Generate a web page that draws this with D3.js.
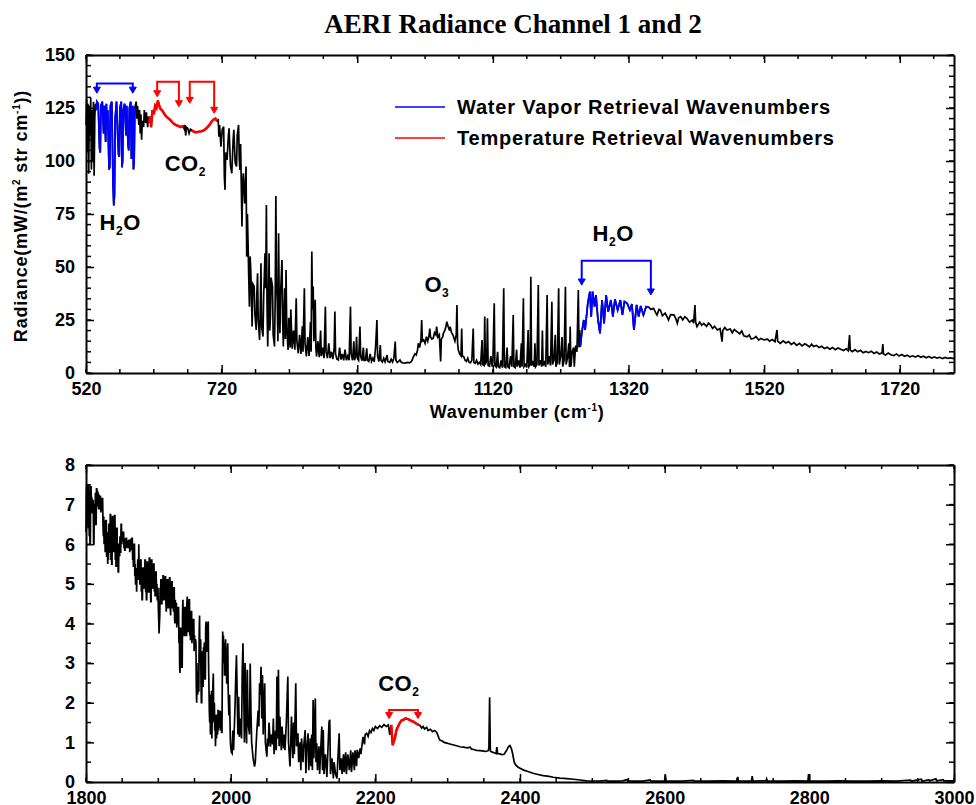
<!DOCTYPE html>
<html lang="en">
<head>
<meta charset="UTF-8">
<title>AERI Radiance Channel 1 and 2</title>
<script src="https://cdn.jsdelivr.net/npm/d3@7"></script>
<style>
  body { margin: 0; background: #fff; }
  svg text { font-family: "Liberation Sans", Arial, sans-serif; font-weight: bold; fill: #000; }
  .title { font-family: "Liberation Serif", "Times New Roman", serif; }
</style>
</head>
<body>
<svg id="chart" width="976" height="805"></svg>
<script>
// channel 1 spectrum, [wavenumber cm-1, radiance mW/(m2 sr cm-1)]
const ch1Spectrum = [
  [520,117],[521,129],[522,104],[523,127],[524,94],[525,126],[526,112],[527,130],[528,96],[529,124],[530,100],[531,128],[532,93],[533,121],[534,127],
  [535,124],[536,128],[538,127],[540,106],[541,104],[542,126],[544,128],[546,113],[547,126],[549,109],[550,127],[551,117],[552,124],[554,96],[555,97],[556,126],[558,128],[560,88],[561,79],[562,84],[563,120],[565,128],[567,110],[568,103],[569,102],[570,125],[572,128],[573,97],[574,100],[575,124],[577,127],[579,112],[580,126],[582,108],[583,105],[584,125],[586,128],[587,101],[588,104],[589,126],[590,96],[591,100],[592,125],
  [594,128],[595,120],[596,126],[598,117],[599,124],[600,113],[601,122],[602,110],[603,119],[605,116],[606,124],[608,118],[609,123],[611,116],[612,121],
  [613,118],[615,121],[616,116],[618,124],[620,122],[622,126],[624,125],[626,128.5],[628,126],[630,124.5],[632,124],[634,123],[637,121.5],[640,120.5],[644,119.5],[648,118],[652,117],[656,116.5],[660,116],[663,116.5],
  [665,115],[666,117],[667,112],[668,116],[670,115.5],[672,113],[674,115],[676,114.5],
  [678,114],[682,113.5],[686,113.8],[690,114],[694,114.5],[698,115.5],[702,117],[705,118.5],[708,119.5],[711,120],[713,119],
  [715,119.4],[716,111.5],[717,117],[719,106.8],[721,115],[723,116.2],[724,92.6],[725,86.4],[726,104],[728,100.5],[730,112],[731,115.4],[733,98],[735,94.2],[737,110],[738,114.7],[740,99],[742,97.4],[743,112],[745,117],[746,101],[747,95.8],[748,108],[750,69.1],[751,90],[752,94.2],[754,80],[756,97.4],[757,54.9],[758,75],[759,61.2],[760,45],[761,31.3],[762,55],[763,48.6],[764,35],[765,21.9],[766,42],[768,40.8],[769,28],[771,20.3],[772,38],[773,47],[774,25],[776,15.6],[777,30],[778,51.8],[779,22],[781,17.2],[782,36],[784,56.5],[785,40],[786,79.3],[787,30],[788,12.5],[789,33],[790,56.5],[791,20],[792,26.6],[793,45],[795,40.8],[796,18],[798,12.5],[799,35],[800,83.5],[801,42],[802,34.5],[803,15],[804,65.9],[805,30],[806,18.8],[807,38],[809,53.3],[810,25],[811,12.5],[812,28],[813,40],[814,16],[815,48.6],[816,22],[818,10.9],[819,26],[821,12],[822,30],[824,11.5],[826,20],[828,11],[830,35.3],[831,15],[833,9.3],[835,18],[837,9],[839,22],[840,10],[842,40],[843,14],[845,7.8],[847,17],[849,8],[851,24],[852,10],[853,57.3],[854,30],[855,40.8],[856,15],[858,34.5],[859,12],[860,7.8],[862,15],[864,7.5],[866,20],[867,8],[869,12],[871,7],[873,31.3],[874,10],[876,7],[878,14],[880,7],[882,10],[884,6.5],[886,12],[887,29],[888,9],[890,6.5],[892,6.2],[894,12],[896,6.3],[898,9],[900,6],[902,11],[904,6],[906,8],[908,6],[910,31.3],[911,9],[913,6],[915,15],[916,6],[918,9],[919,17.1],[920,7],[922,6],[924,21.9],[925,8],[927,5.8],[929,12],[930,6],[932,6],[934,11.6],[935,6],[937,5.5],[939,9],[941,5.5],[943,7],[945,5.3],[947,12],[949,25],[950,8],[952,5.4],[954,13.2],[955,6],[957,5.2],[959,7],[961,5.3],[964,8.5],[965,5.5],[968,5],[970,6.5],[972,5.2],[974,7],[976,14.8],[977,6],[979,5],[981,5.5],[983,6.2],[985,5],[988,4.8],[991,4.7],[994,5],[997,4.8],[1000,5.5],
  [1003,7.7],[1005,9],[1007,8.5],[1009,11],[1010,14],[1012,12],[1014,16],[1015,25],[1016,15],[1018,15.6],[1020,14],[1022,17.1],[1024,15],[1026,18],[1027,21],[1028,17],[1030,16],[1032,16.4],[1034,19],[1036,18],[1037,21.9],[1039,17],[1041,18],[1043,5.4],[1044,16],[1046,17],[1047,18.7],[1049,20],[1051,22],[1052,24.2],[1054,22],[1056,20],[1057,21.9],[1059,19],[1061,18],[1062,17.1],[1064,15],[1066,18],[1067,32.1],[1068,14],[1069,10.9],[1071,9],[1073,8],[1074,21],[1075,8],[1077,7.7],[1079,6],[1081,5.5],[1083,7],[1085,5],[1087,4.8],[1089,6],[1091,21],[1092,5],[1094,4.6],[1096,6],[1098,4.2],[1100,5],[1102,4],[1104,15.6],[1105,4],[1107,3.5],[1108,26.6],[1109,4],[1111,6],[1112,25.8],[1113,3.5],[1115,3.2],[1117,8],[1119,3],[1120,5],[1122,32.9],[1123,3.5],[1125,2.8],[1127,10],[1128,3],[1130,2.5],[1132,6],[1134,2.5],[1136,40],[1137,3],[1139,2.5],[1141,12],[1142,3],[1144,2.4],[1146,8],[1148,3],[1150,27.4],[1151,3],[1153,2.5],[1155,11],[1156,3],[1158,6],[1160,2.5],[1162,14],[1163,3],[1165,35.2],[1166,3],[1168,4],[1170,2.6],[1172,20.3],[1173,3],[1175,4],[1176,45.4],[1177,3.5],[1179,5],[1181,3],[1182,14],[1183,3],[1185,4],[1187,41.5],[1188,3.5],[1190,6],[1192,3],[1193,20],[1194,3.5],[1196,5],[1198,3],[1200,36.8],[1201,4],[1203,8],[1205,3.5],[1207,33.6],[1208,4],[1210,6],[1212,18],[1213,3],[1215,5],[1217,40],[1218,4],[1220,8],[1222,17],[1223,3],[1225,6],[1227,40.7],[1228,4],[1230,7],[1232,14],[1233,2.8],[1234,21.9],[1235,3],[1237,10],[1239,12],[1240,3],[1242,13],[1244,10],[1246,39.1],[1247,12],[1248,20.3],
  [1249,12.4],[1251,18.7],[1254,25],[1256,20.3],[1260,32.9],[1263,38.4],[1265,26.6],[1267,38.4],[1270,31.3],[1272,36.8],[1275,25],[1278,18.7],[1281,34.4],[1284,23.4],[1287,36.8],[1290,28.9],[1294,34.4],[1297,26.6],[1300,34.8],[1304,29.7],[1308,34.4],[1311,27.4],[1314,33.7],[1318,32.9],[1322,29.7],[1325,32.5],[1328,20.3],[1332,32.1],[1335,26.6],[1338,31.6],[1342,27.4],[1346,31.3],[1350,31],
  [1353,30],[1357,30.5],[1360,28.5],[1362,27.4],[1365,30],[1367,29.7],[1370,27],[1374,28.2],[1377,26.5],[1379,25],[1382,27.5],[1387,27.4],[1390,25.5],[1392,23.4],[1394,26],[1397,26.6],[1400,25],[1403,26.5],[1406,25.8],[1410,24],[1414,25],[1416,23.5],[1418,32.1],[1419,24],[1421,21.9],[1425,24],[1428,22.5],[1431,23.4],[1435,22],[1438,23.5],[1441,22.6],[1444,21],[1447,22],[1451,20.3],[1455,21],[1458,14.8],[1459,20],[1462,21.5],[1465,20.3],[1470,20.8],[1473,19],[1476,20.5],[1480,19.5],[1484,18.5],[1487,19.8],[1490,17.5],[1495,17.1],[1498,18],[1501,16],[1505,16.4],[1508,17.2],[1512,15.5],[1515,16.3],[1520,15.6],[1525,16],[1528,15],[1532,15.8],[1536,14.8],[1539,20.3],[1540,15],[1544,14],[1548,15.2],[1552,14.2],[1556,14.8],[1560,13.5],[1564,14.3],[1568,13],[1572,14],[1576,12.8],[1580,13.8],[1583,13.2],[1587,12.3],[1590,13.6],[1593,12.5],[1597,13],[1601,12],[1605,12.6],[1609,11.5],[1613,12.1],[1617,11.2],[1621,12],[1625,11],[1629,11.8],[1633,11.2],[1637,10.6],[1641,11.4],[1644,10.5],[1646,17.9],[1647,10.8],[1650,10.1],[1654,11],[1658,10],[1662,10.7],[1666,9.6],[1670,10.2],[1674,9.6],[1678,10.3],[1682,9.2],[1686,9.9],[1690,9],[1694,9.5],[1695,13.7],[1696,9],[1699,8.5],[1703,9.4],[1707,8.6],[1711,8.2],[1715,9],[1719,8],[1723,8.7],[1727,7.9],[1731,8.4],[1735,7.6],[1739,8.1],[1743,7.5],[1747,8.2],[1751,7.4],[1755,7.9],[1759,7.2],[1763,7.8],[1767,7.1],[1771,7.6],[1775,7],[1779,7.4],[1783,6.8],[1787,7.3],[1791,6.9],[1795,7.1],[1800,6.8]
];

// channel 2 spectrum
const ch2Spectrum = [
  [1800,6.3],[1800.5,7.3],[1801,7.5],[1801.5,6.6],[1802,7.4],[1802.5,6.5],[1803,6.4],[1803.5,7.5],[1804,7.5],[1804.5,6.2],[1805,7.3],[1805.5,6.0],[1806,6.0],[1806.5,7.45],[1807,7.45],[1807.5,6.9],[1808,7.2],[1808.5,6.8],[1809,6.8],[1809.5,7.1],[1810,7.1],[1810.5,6.0],[1811,6.0],[1811.5,7.0],[1812,7.0],[1812.5,6.6],[1813,7.3],[1813.5,6.5],[1814,6.5],[1814.5,7.4],[1815,7.4],[1815.5,7.0],[1816,7.35],[1816.5,6.95],[1817,7.3],[1817.5,6.9],[1818,6.9],[1818.5,7.25],[1819,6.9],[1819.5,7.2],[1820,7.2],[1820.5,6.8],[1821,7.1],[1821.5,6.85],[1822,6.9],[1822.5,7.15],[1823,7.15],[1823.5,6.5],[1824,6.2],[1824.5,6.7],[1825,6.0],[1825.5,6.6],[1826,6.5],[1826.5,5.8],[1827,5.9],[1827.5,6.6],[1828,6.6],[1828.5,5.7],[1829,5.7],[1829.5,6.3],[1830,5.5],[1830.5,6.0],[1831,5.6],[1831.5,6.5],[1832,6.5],[1832.5,5.8],[1833,5.8],[1833.5,6.75],[1834,6.75],[1834.5,5.6],[1835,6.5],[1835.5,5.5],[1836,5.5],[1836.5,6.7],[1837,6.7],[1837.5,5.9],[1838,6.6],[1838.5,5.8],[1839,5.9],[1839.5,6.72],[1840,6.72],[1840.5,5.6],[1841,6.3],[1841.5,5.45],[1842,5.45],[1842.5,6.4],[1843,6.4],[1843.5,5.5],[1844,6.0],[1844.5,5.3],[1845,5.3],[1845.5,6.0],[1846,6.0],[1846.5,5.7],[1847,6.2],[1847.5,5.8],[1848,5.8],[1848.5,6.5],[1849,6.5],[1849.5,6.0],[1850,6.3],[1850.5,6.1],[1851,6.1],[1851.5,6.3],[1852,6.3],[1852.5,5.9],[1853,6.1],[1853.5,5.85],[1854,5.85],[1854.5,6.15],[1855,5.9],[1855.5,6.15],[1856,6.15],[1856.5,5.95],[1857,6.1],[1857.5,5.9],[1858,5.95],[1858.5,6.1],[1859,5.9],[1859.5,6.1],[1860,6.1],[1860.5,5.8],[1861,6.0],[1861.5,5.9],[1862,5.9],[1862.5,6.15],[1863,5.85],[1863.5,6.15],[1864,6.15],[1864.5,5.6],[1865,5.9],[1865.5,5.45],[1866,5.45],[1866.5,6.0],[1867,6.0],[1867.5,5.2],[1868,5.5],[1868.5,5.0],[1869,5.0],[1869.5,5.4],[1870,4.8],[1870.5,5.3],[1871,5.1],[1871.5,5.6],[1872,5.6],[1872.5,5.1],[1873,6.0],[1873.5,5.3],[1874,5.5],[1874.5,5.0],[1875,5.0],[1875.5,5.6],[1876,5.6],[1876.5,4.8],[1877,5.2],[1877.5,4.6],[1878,4.6],[1878.5,5.4],[1879,5.4],[1879.5,4.9],[1880,5.3],[1880.5,4.9],[1881,4.9],[1881.5,5.6],[1882,5.6],[1882.5,4.8],[1883,5.3],[1883.5,4.6],[1884,4.6],[1884.5,5.55],[1885,5.55],[1885.5,4.9],[1886,5.4],[1886.5,4.8],[1887,4.8],[1887.5,5.65],[1888,5.65],[1888.5,4.8],[1889,5.3],[1889.5,4.55],[1890,4.55],[1890.5,5.6],[1891,5.6],[1891.5,5.0],[1892,5.4],[1892.5,4.9],[1893,4.9],[1893.5,5.5],[1894,5.5],[1894.5,4.8],[1895,5.2],[1895.5,4.7],[1896,4.7],[1896.5,5.3],[1897,5.3],[1897.5,4.7],[1898,5.0],[1898.5,4.6],[1899,4.6],[1899.5,4.9],
  [1900,4.4],[1900.5,4.1],[1901,3.75],[1901.5,4.0],[1902,4.2],[1902.5,4.9],[1903,4.6],[1903.5,5.1],[1904,5.1],[1904.5,4.5],[1905,4.5],[1905.5,5.0],[1906,4.7],[1906.5,5.2],[1907,5.2],[1907.5,4.6],[1908,4.6],[1908.5,5.1],[1909,4.7],[1909.5,5.18],[1910,5.18],[1910.5,4.5],[1911,4.3],[1911.5,4.9],[1912,4.5],[1912.5,5.1],[1913,5.1],[1913.5,4.4],[1914,4.4],[1914.5,5.0],[1915,4.6],[1915.5,5.15],[1916,5.15],[1916.5,4.4],[1917,4.2],[1917.5,4.8],[1918,4.5],[1918.5,5.05],[1919,5.05],[1919.5,4.4],[1920,4.4],[1920.5,4.9],[1921,4.3],[1921.5,4.9],[1922,4.9],[1922.5,4.1],[1923,4.0],[1923.5,4.6],[1924,4.2],[1924.5,4.5],[1925,4.5],[1925.5,3.9],[1926,4.3],[1926.5,4.0],[1927,4.0],[1927.5,4.4],[1928,4.4],[1928.5,3.5],[1929,3.9],[1929.5,2.9],[1930,2.75],[1930.5,3.6],[1931,3.9],[1931.5,3.2],[1932,3.8],[1932.5,2.9],[1933,2.9],[1933.5,4.3],[1934,4.6],[1934.5,3.8],[1935,4.2],[1935.5,3.7],[1936,3.7],[1936.5,4.4],[1937,4.4],[1937.5,3.8],[1938,4.2],[1938.5,3.7],[1939,3.7],[1939.5,4.5],[1940,4.68],[1940.5,3.9],[1941,4.4],[1941.5,3.8],[1942,3.8],[1942.5,4.6],[1943,4.6],[1943.5,3.7],[1944,4.1],[1944.5,3.6],[1945,3.6],[1945.5,4.3],[1946,4.3],[1946.5,3.5],[1947,4.0],[1947.5,3.6],[1948,3.6],[1948.5,4.1],[1949,4.1],[1949.5,3.3],[1950,3.7],[1950.5,3.4],[1951,3.4],[1951.5,3.6],[1952,3.5],[1952.5,2.4],[1953,2.0],[1953.5,2.6],[1954,2.8],[1954.5,2.2],[1955,3.0],[1955.5,2.3],[1956,2.3],[1956.5,3.8],[1957,4.2],[1957.5,3.1],[1958,3.0],[1958.5,3.6],[1959,2.5],[1959.5,2.0],[1960,2.0],[1960.5,3.0],[1961,3.3],[1961.5,2.6],[1962,2.4],[1962.5,3.4],[1963,2.8],[1963.5,3.5],[1964,3.5],[1964.5,2.6],[1965,2.6],[1965.5,3.9],[1966,4.05],[1966.5,3.3],[1967,3.3],[1967.5,3.9],[1968,3.4],[1968.5,4.0],[1969,4.05],[1969.5,2.9],[1970,2.4],[1970.5,1.8],[1971,1.5],[1971.5,2.2],[1972,1.2],[1972.5,1.9],[1973,1.3],[1973.5,2.3],[1974,1.1],[1974.5,1.6],[1975,2.0],[1975.5,2.5],[1976,2.74],[1976.5,1.8],[1977,1.5],[1977.5,2.0],[1978,1.3],[1978.5,1.7],[1979,0.9],[1979.5,1.3],[1980,1.6],[1980.5,1.1],[1981,1.7],[1981.5,1.3],[1982,1.2],[1982.5,1.8],[1983,1.8],[1983.5,1.3],[1984,1.7],[1984.5,1.4],[1985,1.4],[1985.5,1.8],[1986,1.7],[1986.5,1.3],[1987,1.6],[1987.5,1.25],[1988,1.25],[1988.5,2.8],[1989,3.8],[1989.5,3.5],[1990,3.7],[1990.5,3.0],[1991,3.5],[1991.5,2.7],[1992,2.7],[1992.5,3.4],[1993,3.6],[1993.5,2.8],[1994,3.3],[1994.5,2.5],[1995,2.5],[1995.5,3.3],[1996,3.5],[1996.5,2.4],[1997,2.0],[1997.5,1.7],[1998,1.7],[1998.5,2.2],[1999,1.6],[1999.5,1.1],
  [2000,0.9],[2001,0.75],[2002,0.72],[2003,1.3],[2004,0.8],[2006,1.9],[2007,2.6],[2008,3.2],[2009,2.2],[2010,1.2],[2011,2.15],[2012,1.14],[2014,1.6],[2015,1.1],[2016,2.8],[2017,3.5],[2018,2.4],[2019,1.0],[2020,3.0],[2021,1.6],[2022,0.97],[2023,2.83],[2024,1.5],[2026,1.2],[2027,2.99],[2028,1.8],[2029,1.0],[2031,0.6],[2033,0.39],[2034,0.5],[2036,1.23],[2038,1.8],[2039,1.4],[2040,2.49],[2041,2.2],[2042,2.91],[2043,1.6],[2044,2.7],[2045,1.2],[2047,2.49],[2048,1.0],[2050,0.64],[2051,1.1],[2052,0.9],[2053,1.5],[2055,0.89],[2056,1.2],[2058,0.95],[2059,1.6],[2060,0.7],[2062,1.3],[2063,0.8],[2064,2.66],[2065,1.1],[2066,2.83],[2067,0.9],[2068,1.65],[2070,0.8],[2071,1.4],[2073,0.85],[2074,1.2],[2075,0.8],[2077,1.5],[2079,2.66],[2080,1.0],[2082,0.39],[2083,0.9],[2084,1.65],[2086,0.6],[2087,1.5],[2088,0.7],[2090,2.49],[2091,0.9],[2093,1.23],[2094,0.5],[2096,1.0],[2097,0.3],[2098,1.1],[2100,0.5],[2101,0.9],[2103,1.31],[2104,0.22],[2105,0.8],[2107,1.23],[2108,0.3],[2110,1.1],[2111,0.4],[2112,1.2],[2113,0.3],[2114,2.07],[2115,0.6],[2117,2.11],[2118,0.5],[2119,0.98],[2120,0.3],[2122,0.9],[2123,0.2],[2125,1.0],[2126,1.4],[2127,0.3],[2128,1.31],[2129,0.2],[2131,0.7],[2133,0.13],[2134,0.6],[2136,1.52],[2137,1.57],[2138,0.2],[2140,0.6],[2142,0.09],[2143,0.5],[2145,0.2],[2147,0.09],[2148,0.5],[2150,1.23],[2151,0.3],[2153,0.6],[2154,0.2],[2156,0.7],[2157,0.25],[2159,0.75],[2160,0.2],[2162,0.7],[2164,0.3],[2166,0.8],[2167,0.25],[2169,0.75],[2171,0.3],[2172,0.8],[2174,0.4],[2175,0.81],[2177,0.6],[2179,0.85],[2180,0.7],[2182,1.0],[2183,1.14],[2185,0.95],[2186,1.2],[2188,1.23],[2190,1.15],[2192,1.3],[2194,1.25],[2196,1.35],[2198,1.3],[2200,1.4],[2203,1.35],[2206,1.42],[2209,1.38],[2212,1.45],[2215,1.4],[2218,1.44],[2220,1.19],[2221,1.35],
  [2222,1.44],[2224,0.93],[2226,1.05],[2227,1.1],[2229,1.3],[2231,1.38],[2234,1.5],[2236,1.55],[2239,1.57],[2241,1.6],[2243,1.6],[2246,1.58],[2248,1.56],[2250,1.54],[2253,1.52],[2256,1.48],[2260,1.44],
  [2262,1.42],[2264,1.36],[2266,1.4],[2268,1.34],[2271,1.38],[2273,1.3],[2276,1.33],[2279,1.27],[2282,1.3],[2285,1.25],[2287,1.15],[2289,1.06],[2292,1.04],[2295,1.0],[2299,0.98],[2303,0.96],[2307,0.94],[2311,0.92],[2317,0.89],[2322,0.88],[2327,0.86],[2331,0.88],[2333,0.83],[2336,0.82],[2340,0.8],[2345,0.79],[2350,0.78],[2353,0.77],[2356,0.79],[2357,0.86],[2358,2.14],[2359,0.78],[2361,0.76],[2364,0.74],[2367,0.72],[2368,0.88],[2369,0.72],[2372,0.71],[2375,0.69],[2378,0.7],[2381,0.78],[2384,0.89],[2386,0.92],[2388,0.85],[2390,0.7],[2392,0.5],[2394,0.43],[2397,0.38],[2400,0.35],[2405,0.3],[2410,0.27],[2418,0.22],[2425,0.19],[2432,0.16],[2440,0.14],[2446,0.12],[2455,0.1],[2465,0.085],[2474,0.07],[2483,0.05],[2492,0.03],
  [2500,0.025],[2510,0.02],[2520,0.04],[2521,0.02],[2540,0.02],[2548,0.06],[2549,0.02],[2570,0.02],[2580,0.05],[2581,0.02],[2600,0.02],[2601,0.18],[2602,0.02],[2625,0.02],[2640,0.04],[2641,0.02],[2660,0.02],[2680,0.03],[2700,0.02],[2701,0.13],[2702,0.02],[2720,0.02],[2721,0.15],[2722,0.02],[2740,0.03],[2741,0.08],[2742,0.02],[2760,0.02],[2780,0.03],[2798,0.02],[2799,0.2],[2800,0.02],[2820,0.02],[2840,0.03],[2860,0.02],[2880,0.02],[2900,0.03],[2920,0.02],[2940,0.05],[2941,0.02],[2955,0.07],[2956,0.02],[2965,0.06],[2966,0.03],[2975,0.08],[2976,0.03],[2985,0.06],[2986,0.03],[3000,0.03]
];

// retrieval bands, [from, to] in cm-1
const waterVaporBands = [[535, 592], [1249, 1350]];
const temperatureBands = [[613, 663], [676, 713], [2222, 2260]];

// bracket arrows: from, to, bar level, arrow tip levels
const ch1Brackets = [
  { from: 536, to: 589, level: 136.6, tipFrom: 132, tipTo: 132, color: "blue" },
  { from: 625, to: 657, level: 137.4, tipFrom: 130.3, tipTo: 125.6, color: "red" },
  { from: 673, to: 709, level: 137.4, tipFrom: 127.2, tipTo: 122.5, color: "red" },
  { from: 1251, to: 1353, level: 53, tipFrom: 41.5, tipTo: 36.8, color: "blue" }
];
const ch2Brackets = [
  { from: 2219, to: 2259, level: 1.82, tipFrom: 1.6, tipTo: 1.6, color: "red" }
];

// gas labels: position in data units
const ch1Labels = [
  { wn: 540, v: 67.5, main: "H", sub: "2", tail: "O" },
  { wn: 636, v: 95.5, main: "CO", sub: "2", tail: "" },
  { wn: 1019, v: 38, main: "O", sub: "3", tail: "" },
  { wn: 1267, v: 62.5, main: "H", sub: "2", tail: "O" }
];
const ch2Labels = [
  { wn: 2204, v: 2.3, main: "CO", sub: "2", tail: "" }
];

const ch1XTicks = [520, 720, 920, 1120, 1320, 1520, 1720];
const ch1YTicks = [0, 25, 50, 75, 100, 125, 150];
const ch2XTicks = [1800, 2000, 2200, 2400, 2600, 2800, 3000];
const ch2YTicks = [0, 1, 2, 3, 4, 5, 6, 7, 8];

const legendItems = [
  { color: "blue", text: "Water Vapor Retrieval Wavenumbers" },
  { color: "red", text: "Temperature Retrieval Wavenumbers" }
];

const svg = d3.select("#chart");
const left = 86, right = 954;

const x1 = d3.scaleLinear([520, 1800], [left, right]);
const y1 = d3.scaleLinear([0, 150], [373, 55]);
const x2 = d3.scaleLinear([1800, 3000], [left, right]);
const y2 = d3.scaleLinear([0, 8], [782, 465]);

function drawFrame(x, y, xTicks, xMinor, yTicks, yMinor) {
  const [x0, x1r] = x.range();
  const [yb, yt] = y.range();
  const g = svg.append("g");
  const xm = d3.range(x.domain()[0], x.domain()[1] + 1e-6, xMinor);
  const ym = d3.range(y.domain()[0], y.domain()[1] + 1e-6, yMinor);

  const bottom = g.append("g").attr("transform", `translate(0,${yb})`)
    .call(d3.axisBottom(x).tickValues(xTicks).tickFormat(d3.format("d"))
      .tickSizeInner(-8).tickSizeOuter(0).tickPadding(9));
  const leftAx = g.append("g").attr("transform", `translate(${x0},0)`)
    .call(d3.axisLeft(y).tickValues(yTicks).tickFormat(d3.format("d"))
      .tickSizeInner(-8).tickSizeOuter(0).tickPadding(11));
  const top = g.append("g").attr("transform", `translate(0,${yt})`)
    .call(d3.axisTop(x).tickValues(xTicks).tickSizeInner(-8).tickSizeOuter(0).tickFormat(""));
  const rightAx = g.append("g").attr("transform", `translate(${x1r},0)`)
    .call(d3.axisRight(y).tickValues(yTicks).tickSizeInner(-8).tickSizeOuter(0).tickFormat(""));

  [bottom, leftAx, top, rightAx].forEach(a => {
    a.attr("font-family", null).attr("font-size", null);
    a.selectAll("path.domain").attr("stroke-width", 2);
    a.selectAll(".tick line").attr("stroke-width", 1.5);
    a.selectAll("text").style("font-size", "18px");
  });

  // minor ticks on all four sides
  g.selectAll(null).data(xm).join("line")
    .attr("x1", d => x(d)).attr("x2", d => x(d)).attr("y1", yb).attr("y2", yb - 4)
    .attr("stroke", "#000").attr("stroke-width", 1.5);
  g.selectAll(null).data(xm).join("line")
    .attr("x1", d => x(d)).attr("x2", d => x(d)).attr("y1", yt).attr("y2", yt + 4)
    .attr("stroke", "#000").attr("stroke-width", 1.5);
  g.selectAll(null).data(ym).join("line")
    .attr("x1", x0).attr("x2", x0 + 5).attr("y1", d => y(d)).attr("y2", d => y(d))
    .attr("stroke", "#000").attr("stroke-width", 1.5);
  g.selectAll(null).data(ym).join("line")
    .attr("x1", x1r).attr("x2", x1r - 5).attr("y1", d => y(d)).attr("y2", d => y(d))
    .attr("stroke", "#000").attr("stroke-width", 1.5);
}

function drawSpectrum(data, x, y) {
  const line = d3.line().x(d => x(d[0])).y(d => y(d[1]));
  svg.append("path").datum(data)
    .attr("d", line).attr("fill", "none").attr("stroke", "#000")
    .attr("stroke-width", 1.7).attr("stroke-linejoin", "miter");

  const bands = [
    ...waterVaporBands.map(b => ({ b, color: "blue" })),
    ...temperatureBands.map(b => ({ b, color: "red" }))
  ];
  bands.forEach(({ b, color }) => {
    const seg = data.filter(d => d[0] >= b[0] && d[0] <= b[1]);
    if (seg.length < 2) return;
    svg.append("path").datum(seg)
      .attr("d", line).attr("fill", "none").attr("stroke", color)
      .attr("stroke-width", color === "red" ? 2.6 : 1.8);
  });
}

function drawBrackets(list, x, y) {
  list.forEach(br => {
    const xa = x(br.from), xb = x(br.to), yl = y(br.level);
    const ya = y(br.tipFrom), yb = y(br.tipTo);
    svg.append("path")
      .attr("d", `M${xa},${ya - 5}V${yl}H${xb}V${yb - 5}`)
      .attr("fill", "none").attr("stroke", br.color).attr("stroke-width", 2);
    [[xa, ya], [xb, yb]].forEach(([px, py]) => {
      svg.append("path")
        .attr("d", `M${px - 3.5},${py - 6}L${px + 3.5},${py - 6}L${px},${py}Z`)
        .attr("fill", br.color).attr("stroke", br.color).attr("stroke-width", 1);
    });
  });
}

function drawLabels(list, x, y) {
  list.forEach(l => {
    const t = svg.append("text").attr("x", x(l.wn)).attr("y", y(l.v))
      .style("font-size", "22px").style("letter-spacing", "0.5px");
    t.append("tspan").text(l.main);
    t.append("tspan").attr("dy", 5).style("font-size", "12px").text(l.sub);
    if (l.tail) t.append("tspan").attr("dy", -5).text(l.tail);
  });
}

drawSpectrum(ch1Spectrum, x1, y1);
drawSpectrum(ch2Spectrum, x2, y2);
drawFrame(x1, y1, ch1XTicks, 50, ch1YTicks, 5);
drawFrame(x2, y2, ch2XTicks, 50, ch2YTicks, 0.5);
drawBrackets(ch1Brackets, x1, y1);
drawBrackets(ch2Brackets, x2, y2);
drawLabels(ch1Labels, x1, y1);
drawLabels(ch2Labels, x2, y2);

// title
svg.append("text").attr("class", "title")
  .attr("x", 513).attr("y", 33).attr("text-anchor", "middle")
  .style("font-size", "27px").text("AERI Radiance Channel 1 and 2");

// legend
const legend = svg.append("g");
legendItems.forEach((d, i) => {
  const ly = 107 + i * 31;
  legend.append("line").attr("x1", 395).attr("x2", 445).attr("y1", ly).attr("y2", ly)
    .attr("stroke", d.color).attr("stroke-width", 1.5);
  legend.append("text").attr("x", 457).attr("y", ly + 7)
    .style("font-size", "20px").style("letter-spacing", "0.8px").text(d.text);
});

// axis titles
const xt = svg.append("text").attr("x", 517).attr("y", 418).attr("text-anchor", "middle")
  .style("font-size", "18px").style("letter-spacing", "0.6px");
xt.append("tspan").text("Wavenumber (cm");
xt.append("tspan").attr("dy", -7).style("font-size", "10px").text("-1");
xt.append("tspan").attr("dy", 7).text(")");

const yt = svg.append("text").attr("transform", "translate(27,216) rotate(-90)")
  .attr("text-anchor", "middle").style("font-size", "18px").style("letter-spacing", "0.8px");
yt.append("tspan").text("Radiance(mW/(m");
yt.append("tspan").attr("dy", -7).style("font-size", "10px").text("2");
yt.append("tspan").attr("dy", 7).text(" str cm");
yt.append("tspan").attr("dy", -7).style("font-size", "10px").text("-1");
yt.append("tspan").attr("dy", 7).text("))");
</script>
</body>
</html>
